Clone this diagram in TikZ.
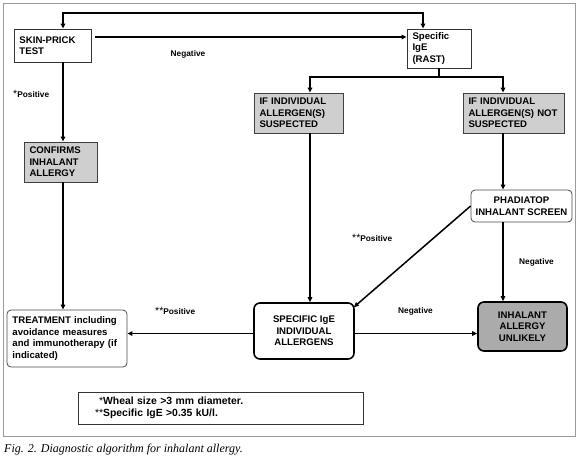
\documentclass[tikz,border=0pt]{standalone}
\usepackage{fontspec}
\setmainfont{Liberation Sans}
\newfontfamily\capfont{Liberation Serif}
\usetikzlibrary{arrows.meta}
\definecolor{boxgray}{HTML}{CFCFCF}
\definecolor{darkgray2}{HTML}{ABABAB}
\definecolor{framegray}{HTML}{9A9A9A}
\tikzset{
  base/.style={draw, inner ysep=0pt, inner xsep=5.5pt, font=\fontsize{9.6}{11.5}\selectfont\bfseries},
  plainbox/.style={base, draw=black!80, line width=0.8pt, fill=white},
  graybox/.style={base, draw=black!75, line width=0.8pt, fill=boxgray},
  roundbox/.style={base, draw=black!70, line width=0.8pt, rounded corners=4pt, fill=white},
  thickbox/.style={base, draw=black, line width=1.6pt, rounded corners=6pt, fill=white},
  arr/.style={line width=1.5pt, -{Triangle[length=5pt,width=4.5pt]}},
  lbl/.style={font=\fontsize{8.3}{10}\selectfont\bfseries, inner sep=0pt},
}
\newcommand{\myast}{{\fontsize{10.5}{10}\selectfont\mdseries *}}
\begin{document}
\begin{tikzpicture}[x=1pt,y=-1pt]
\useasboundingbox (0,0) rectangle (579,459);
\draw[framegray, line width=0.9pt] (3,3) rectangle (575,436);

% boxes
\node[plainbox, minimum width=77pt, minimum height=33pt, text width=66pt, align=left] (skin) at (52.5,45.5) {SKIN-PRICK\\TEST};
\node[plainbox, minimum width=64pt, minimum height=39pt, text width=53pt, align=left] (ige) at (439,48.5) {Specific\\IgE\\(RAST)};
\node[graybox, minimum width=89pt, minimum height=40pt, text width=78pt, align=left] (susp) at (298.5,113) {IF INDIVIDUAL\\ALLERGEN(S)\\SUSPECTED};
\node[graybox, minimum width=101pt, minimum height=40pt, text width=90pt, align=left] (nots) at (513.5,113) {IF INDIVIDUAL\\ALLERGEN(S) NOT\\SUSPECTED};
\node[graybox, minimum width=73pt, minimum height=40pt, text width=62pt, align=left] (conf) at (60.5,162) {CONFIRMS\\INHALANT\\ALLERGY};
\node[roundbox, minimum width=120pt, minimum height=57pt, text width=109pt, align=left] (treat) at (67,338.5) {TREATMENT including\\avoidance measures\\and immunotherapy (if\\indicated)};
\node[roundbox, minimum width=101pt, minimum height=32pt, inner xsep=1pt, align=center] (phad) at (521.5,206) {PHADIATOP\\INHALANT SCREEN};
\node[thickbox, minimum width=100pt, minimum height=56pt, align=center] (spec) at (304,331) {SPECIFIC IgE\\INDIVIDUAL\\ALLERGENS};
\node[thickbox, fill=darkgray2, minimum width=89pt, minimum height=49pt, align=center] (unl) at (522.5,326.5) {INHALANT\\ALLERGY\\UNLIKELY};
\node[plainbox, line width=0.8pt, minimum width=285pt, minimum height=32pt, inner xsep=0pt, text width=285pt, align=left, font=\fontsize{10.4}{12.5}\selectfont\bfseries] (foot) at (220.5,408) {\hspace*{21pt}\myast Wheal size >3 mm diameter.\\\hspace*{17pt}\myast\myast Specific IgE >0.35 kU/l.};

% helper coordinates
\coordinate (xa) at (63,0);
\coordinate (xi) at (423,0);
\coordinate (xs) at (310,0);
\coordinate (xn) at (503,0);
\coordinate (ya) at (0,37);
\coordinate (yt) at (0,13);
\coordinate (yb) at (0,77);
\coordinate (yc) at (0,333.5);

% connectors
\draw[line width=1.5pt, {Triangle[length=5pt,width=4.5pt]}-{Triangle[length=5pt,width=4.5pt]}]
  (skin.north -| xa) -- (xa |- yt) -| (ige.north -| xi);
\draw[arr] ([xshift=4pt]skin.east |- ya) -- (ige.west |- ya);
\draw[line width=1.5pt] (ige.south) -- (ige.south |- yb);
\draw[arr] (ige.south |- yb) -| (susp.north -| xs);
\draw[arr] (ige.south |- yb) -| (nots.north -| xn);
\draw[arr] (skin.south -| xa) -- (conf.north -| xa);
\draw[arr] (conf.south -| xa) -- (treat.north -| xa);
\draw[arr] (susp.south -| xs) -- (spec.north -| xs);
\draw[arr] (nots.south -| xn) -- (phad.north -| xn);
\draw[arr] (phad.south -| xn) -- (unl.north -| xn);
\draw[arr] (phad.west) -- ([xshift=-1pt,yshift=-5pt]spec.north east);
\draw[arr] (spec.east |- yc) -- (unl.west |- yc);
\draw[arr] (spec.west |- yc) -- (treat.east |- yc);

% labels
\node[lbl] (l1) at (188,54) {Negative};
\node[lbl, anchor=west] (l2) at (13,94) {\myast Positive};
\node[lbl, anchor=west] (l3) at (155,311) {\myast\myast Positive};
\node[lbl, anchor=west] (l4) at (352,238) {\myast\myast Positive};
\node[lbl] (l5) at (536.5,262) {Negative};
\node[lbl] (l6) at (415.5,311) {Negative};

% caption
\node[anchor=west, inner sep=0pt, font=\capfont\itshape\fontsize{12}{13}\selectfont] (cap) at (4,450) {Fig. 2. Diagnostic algorithm for inhalant allergy.};
\end{tikzpicture}
\end{document}
